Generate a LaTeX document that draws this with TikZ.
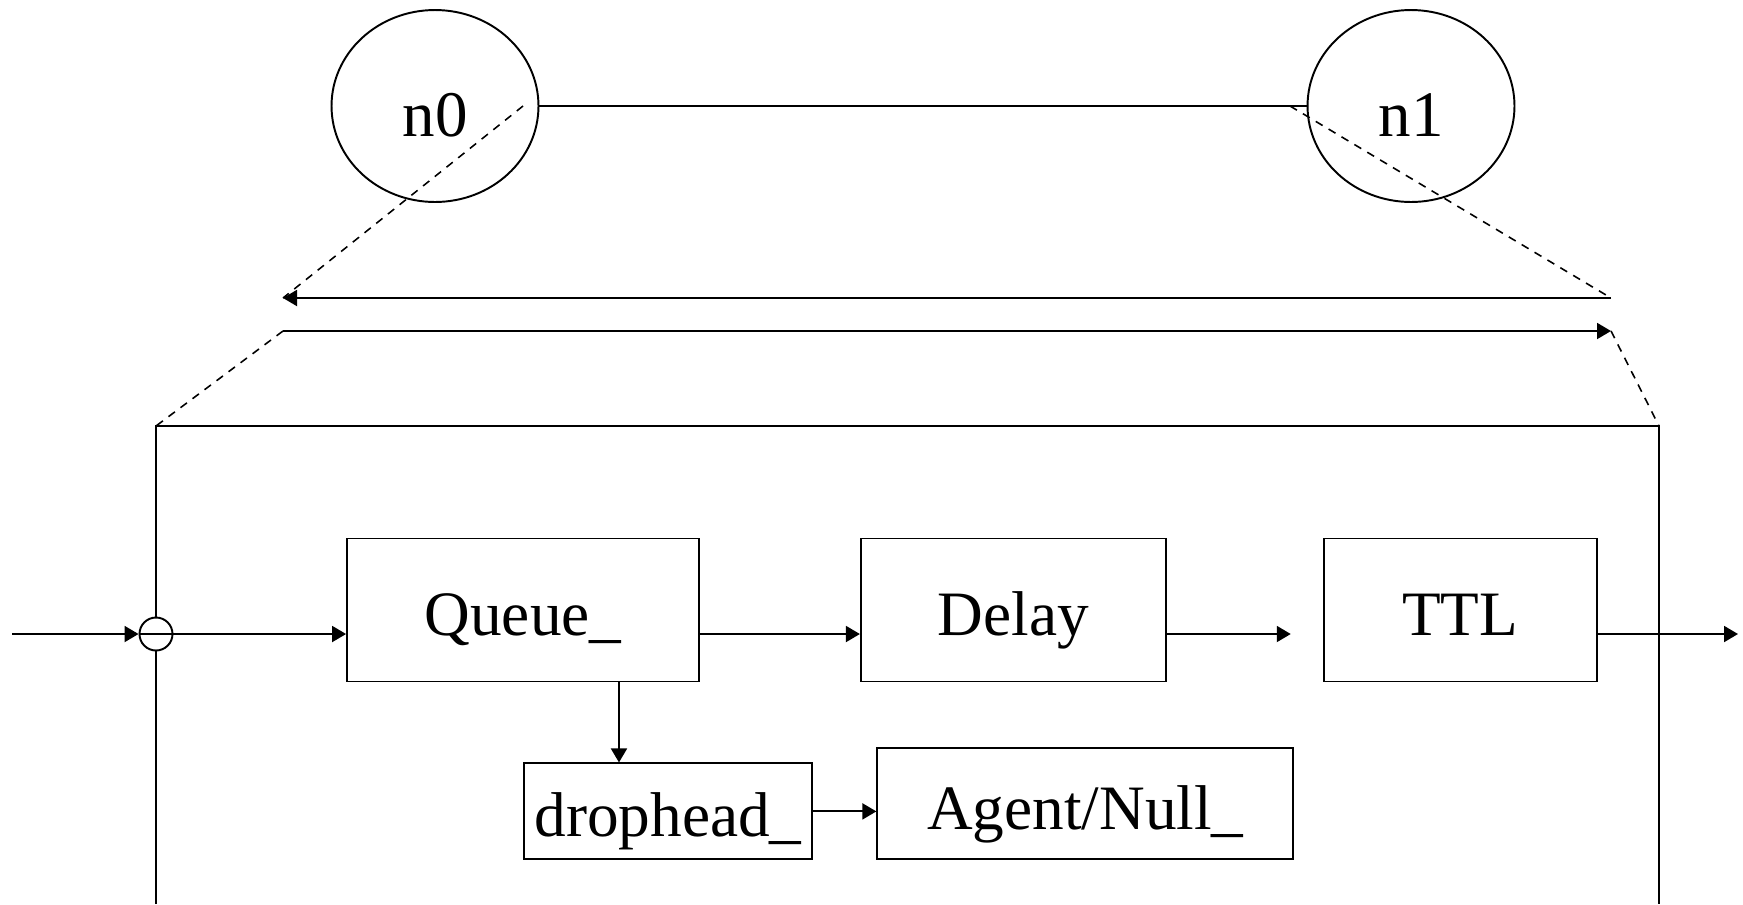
\documentclass[tikz,border=0pt]{standalone}
\usepackage{fontspec}
\setmainfont{Liberation Serif}
\usetikzlibrary{positioning, arrows.meta, shapes.geometric}

\begin{document}
\begin{tikzpicture}[
        x=0.02cm, y=-0.02cm,
        line width=1.1pt,
        font=\fontsize{36}{40}\selectfont,
        block/.style={draw, rectangle, inner sep=0pt, text height=1.2cm, text depth=0.19cm},
        host/.style={draw, ellipse, minimum width=4.14cm, minimum height=3.84cm, inner sep=0pt, font=\fontsize{37}{40}\selectfont, text height=1.2cm, text depth=0pt},
        arrow/.style={-{Triangle[length=0.28cm, width=0.32cm]}},
        zoomline/.style={dash pattern=on 0.16cm off 0.14cm, line width=0.9pt}
    ]
    \useasboundingbox (0,0) rectangle (1743,904);

    \node[host] (n0) at (435,106) {n0};
    \node[host] (n1) at (1411,106) {n1};

    \coordinate (CutA) at (523,106);
    \coordinate (CutB) at (1290,106);
    \coordinate (RevL) at (283,298);
    \coordinate (RevR) at (1611,298);
    \coordinate (FwdL) at (283,331);
    \coordinate (FwdR) at (1611,331);
    \coordinate (BoxTL) at (156,426);
    \coordinate (BoxTR) at (1659,426);
    \coordinate (BoxBL) at (156,904);
    \coordinate (BoxBR) at (1659,904);

    \draw (n0) -- (n1);
    \draw[arrow] (RevR) -- (RevL);
    \draw[arrow] (FwdL) -- (FwdR);
    \draw[zoomline] (CutA) -- (RevL);
    \draw[zoomline] (CutB) -- (RevR);
    \draw[zoomline] (FwdL) -- (BoxTL);
    \draw[zoomline] (FwdR) -- (BoxTR);
    \draw (BoxBL) -- (BoxTL) -- (BoxTR) -- (BoxBR);

    \node[draw, circle, fill=white, minimum size=0.66cm, inner sep=0pt] (Join) at (156,634) {};
    \coordinate (In) at (12,634);
    \coordinate (Out) at (1738,634);

    \node[block, minimum width=7.04cm, minimum height=2.86cm] (Queue) at (523,610) {Queue\_};
    \node[block, minimum width=6.1cm, minimum height=2.86cm, right=3.2cm of Queue] (Delay) {Delay};
    \node[block, minimum width=5.46cm, minimum height=2.86cm, right=3.12cm of Delay] (TTL) {TTL};
    \node[block, minimum width=5.76cm, minimum height=1.92cm, below=1.6cm of Queue.south, anchor=north west] (Drophead) {drophead\_};
    \node[block, minimum width=8.32cm, minimum height=2.22cm, right=1.27cm of Drophead.south east, anchor=south west] (Agent) {Agent/Null\_};

    \draw[arrow] (In) -- (Join);
    \draw[arrow] (Join.west) -- (Join.west -| Queue.west);
    \draw[arrow] (Queue.east |- Join) -- (Delay.west |- Join);
    \draw[arrow, shorten >=0.64cm] (Delay.east |- Join) -- (TTL.west |- Join);
    \draw[arrow] (TTL.east |- Join) -- (Out);
    \draw[arrow] ([xshift=1.92cm]Queue.south) -- ([xshift=1.92cm]Queue.south |- Drophead.north);
    \draw[arrow] (Drophead) -- (Drophead -| Agent.west);

\end{tikzpicture}
\end{document}
